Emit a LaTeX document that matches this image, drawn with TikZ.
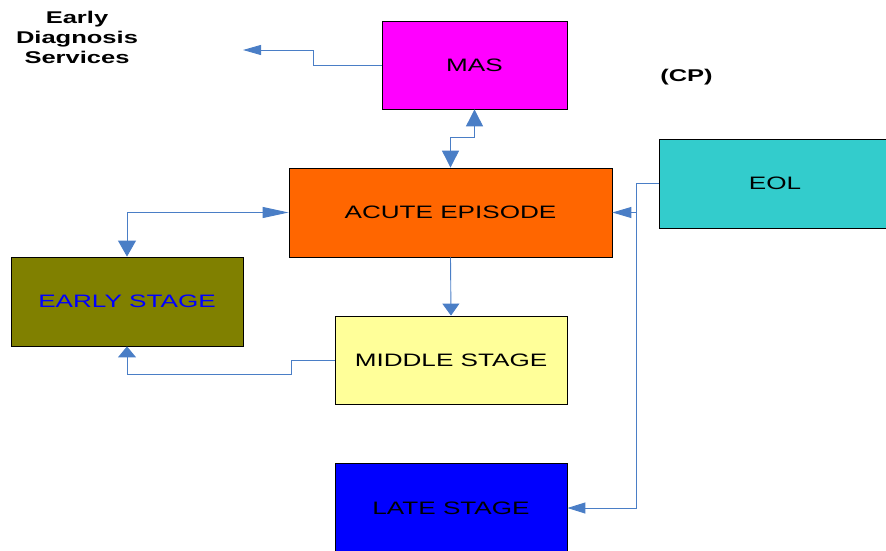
\documentclass[tikz,border=0pt]{standalone}
\usepackage{fontspec}
\usepackage{graphicx}
\setmainfont{Liberation Sans}
\usetikzlibrary{arrows.meta}
\definecolor{cmas}{HTML}{FF00FF}
\definecolor{cacute}{HTML}{FF6600}
\definecolor{ceol}{HTML}{33CCCC}
\definecolor{cearly}{HTML}{808000}
\definecolor{cmiddle}{HTML}{FFFF99}
\definecolor{clate}{HTML}{0000FF}
\definecolor{cline}{HTML}{4A7EC6}
\newcommand\sxtext[1]{\scalebox{1.45}[1]{\fontsize{18}{20}\selectfont #1}}
\newcommand\sxbold[1]{\scalebox{1.5}[1]{\fontsize{17}{20}\selectfont\bfseries #1}}
\tikzset{
  box/.style={draw=black, line width=0.8pt, rectangle, inner sep=0pt},
  conn/.style={draw=cline, line width=0.9pt},
  lbl/.style={inner sep=0pt, align=center, font=\fontsize{17}{20}\selectfont}
}
\begin{document}
\begin{tikzpicture}[x=1pt,y=-1pt]
\useasboundingbox (0,0) rectangle (886,551);
\clip (0,0) rectangle (886,551);
% boxes
\node[box, fill=cmas, minimum width=185pt, minimum height=88pt] (mas) at (474.5,65) {\sxtext{MAS}};
\node[box, fill=cacute, minimum width=323pt, minimum height=89pt] (acute) at (450.5,212.5) {\sxtext{ACUTE EPISODE}};
\node[box, fill=ceol, minimum width=240pt, minimum height=89pt, anchor=west] (eol) at (659,183.5) {};
\node[lbl] (eoltext) at (775,183.5) {\sxtext{EOL}};
\node[box, fill=cearly, minimum width=232pt, minimum height=89pt] (early) at (127,301.5) {\textcolor{clate}{\sxtext{EARLY STAGE}}};
\node[box, fill=cmiddle, minimum width=232pt, minimum height=88pt] (middle) at (451,360) {\sxtext{MIDDLE STAGE}};
\node[box, fill=clate, minimum width=232pt, minimum height=90pt] (late) at (451,508) {\sxtext{LATE STAGE}};
% free labels
\node[lbl] (eds) at (77,37) {\sxbold{Early}\\\sxbold{Diagnosis}\\\sxbold{Services}};
\node[lbl] (cp) at (686.5,77) {\sxbold{(CP)}};
% coordinates
\coordinate (edsend) at (243,50);
\coordinate (j) at (636,212.5);
% connectors
\draw[conn, -{Triangle[length=18pt,width=10pt]}] (mas.west) -- (313,65) -- (313,50) -- (edsend);
\draw[conn, {Triangle[length=17pt,width=17pt]}-{Triangle[length=17pt,width=17pt]}] (mas.south) -- (474.5,137) -| (acute.north);
\draw[conn, {Triangle[length=26pt,width=11pt]}-{Triangle[length=16pt,width=18pt]}] (acute.west) -| (early.north);
\draw[conn, -{Triangle[length=12pt,width=17pt]}] (acute.south) -- (middle.north);
\draw[conn, -{Triangle[length=11pt,width=18pt]}] (middle.west) -- (291,360) -- (291,374) -| (early.south);
\draw[conn, -{Triangle[length=19pt,width=11pt]}] (eol.west) -| (j) -- (acute.east);
\draw[conn, -{Triangle[length=18pt,width=11pt]}] (j) |- (late.east);
\end{tikzpicture}
\end{document}
